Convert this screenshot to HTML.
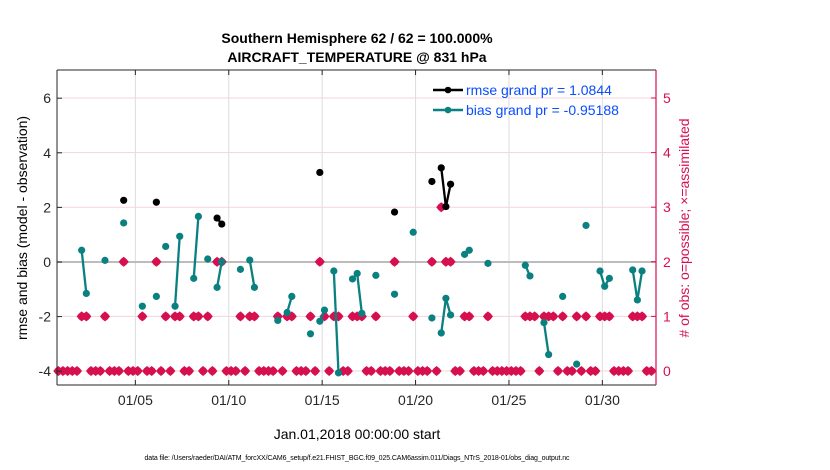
<!DOCTYPE html>
<html><head><meta charset="utf-8">
<style>
html,body{margin:0;padding:0;background:#fff;}
svg{display:block;font-family:"Liberation Sans",sans-serif;}
</style></head>
<body>
<svg id="chart" width="830" height="470" viewBox="0 0 830 470" xmlns="http://www.w3.org/2000/svg">
  <text x="357" y="43" font-size="14" font-weight="bold" text-anchor="middle">Southern Hemisphere 62 / 62 = 100.000%</text>
  <text x="357" y="62" font-size="14" font-weight="bold" text-anchor="middle">AIRCRAFT_TEMPERATURE @ 831 hPa</text>
  <g id="grid"></g>
  <g id="marks"></g>
  <g id="axes"></g>
  <text transform="translate(27,228) rotate(-90)" font-size="14" text-anchor="middle">rmse and bias (model - observation)</text>
  <text transform="translate(689,228) rotate(-90)" font-size="14" text-anchor="middle" fill="#d6104f"># of obs: o=possible; ×=assimilated</text>
  <text x="357" y="439" font-size="14" text-anchor="middle">Jan.01,2018 00:00:00 start</text>
  <text x="357" y="460" font-size="7" text-anchor="middle" textLength="425">data file: /Users/raeder/DAI/ATM_forcXX/CAM6_setup/f.e21.FHIST_BGC.f09_025.CAM6assim.011/Diags_NTrS_2018-01/obs_diag_output.nc</text>
  <g id="legend">
    <line x1="433" y1="90" x2="463" y2="90" stroke="#000" stroke-width="2.5"/>
    <circle cx="448" cy="90" r="3.3" fill="#000"/>
    <text x="466" y="95" font-size="14" fill="#0a4dff">rmse grand pr = 1.0844</text>
    <line x1="433" y1="110" x2="463" y2="110" stroke="#0a8080" stroke-width="2.5"/>
    <circle cx="448" cy="110" r="3.3" fill="#0a8080"/>
    <text x="466" y="115" font-size="14" fill="#0a4dff">bias grand pr = -0.95188</text>
  </g>
</svg>
<script>
// slot k corresponds to day 0.875 + 0.25*k (6-hourly bins)
const obsCount = [
0,0,0,0,0,1,1,0,0,0,1,0,0,0,2,0,
0,0,1,0,0,2,0,1,0,1,1,0,0,1,1,0,
1,0,2,2,0,0,0,1,0,1,1,0,0,0,0,1,
0,1,1,0,0,0,1,0,2,1,0,1,1,0,0,1,
1,1,0,0,1,0,0,0,2,0,0,0,1,0,0,0,
2,0,3,2,2,0,0,1,1,0,0,0,1,0,0,0,
0,0,0,0,1,1,1,0,1,1,1,0,1,0,0,1,
0,1,0,0,1,1,1,0,0,0,0,1,1,1,0,0];
const biasSlots = [5,6,10,14,18,21,23,25,26,29,30,32,34,35,39,41,42,47,49,50,54,56,57,59,60,63,64,65,68,72,76,80,82,83,84,87,88,92,100,101,104,105,108,111,113,116,117,118,123,124,125];
const biasValues = [0.43,-1.15,0.06,1.43,-1.62,-1.26,0.57,-1.62,0.94,-0.60,1.67,0.11,-0.93,0.01,-0.27,0.07,-0.93,-2.14,-1.85,-1.26,-2.63,-2.17,-1.76,-0.33,-4.06,-0.62,-0.42,-1.88,-0.49,-1.18,1.09,-2.05,-2.60,-1.33,-1.94,0.28,0.43,-0.05,-0.12,-0.51,-2.22,-3.39,-1.26,-3.74,1.34,-0.33,-0.89,-0.60,-0.29,-1.39,-0.33];
const rmseSlots = [14,21,34,35,56,72,80,82,83,84];
const rmseValues = [2.26,2.19,1.61,1.39,3.28,1.83,2.95,3.45,2.03,2.85];
const xTickDays = [5,10,15,20,25,30];
const xTickLabels = ["01/05","01/10","01/15","01/20","01/25","01/30"];
const yTicksLeft = [-4,-2,0,2,4,6];
const yTicksRight = [0,1,2,3,4,5];

const NS="http://www.w3.org/2000/svg";
const PL=57, PR=656, PT=70, PB=385;
const slotDay = k => 0.875 + 0.25*k;
const xDay = d => 58.3 + (d-0.875)*18.68;
const yL = v => 262 - v*27.3;
const yR = c => 371 - c*54.6;
function mk(tag, attrs, parent){const e=document.createElementNS(NS,tag);for(const a in attrs)e.setAttribute(a,attrs[a]);parent.appendChild(e);return e;}
const grid=document.getElementById('grid'), marks=document.getElementById('marks'), axes=document.getElementById('axes');

mk('rect',{x:PL,y:PT,width:PR-PL,height:PB-PT,fill:'#fff'},grid);
xTickDays.forEach(d=>{const x=xDay(d);mk('line',{x1:x,y1:PT,x2:x,y2:PB,stroke:'#dcdcdc','stroke-width':1},grid);});
yTicksRight.forEach(c=>{mk('line',{x1:PL,y1:yR(c),x2:PR,y2:yR(c),stroke:'#f5d3de','stroke-width':1},grid);});
mk('line',{x1:PL,y1:yL(0),x2:PR,y2:yL(0),stroke:'#bcbcbc','stroke-width':2},grid);

// obs count markers
obsCount.forEach((c,k)=>{
  const x=xDay(slotDay(k)), y=yR(c);
  if(x<PL||x>PR) return;
  const s=5, t=2.8;
  const p=mk('polygon',{points:`${x-s},${y} ${x-t},${y-t} ${x},${y-s} ${x+t},${y-t} ${x+s},${y} ${x+t},${y+t} ${x},${y+s} ${x-t},${y+t}`,fill:'#d6104f'},marks);
  
  
});

function series(slots, vals, color, name){
  for(let i=1;i<slots.length;i++){
    if(slots[i]===slots[i-1]+1){
      const l=mk('line',{x1:xDay(slotDay(slots[i-1])),y1:yL(vals[i-1]),x2:xDay(slotDay(slots[i])),y2:yL(vals[i]),stroke:color,'stroke-width':2.3},marks);
      
      
    }
  }
  slots.forEach((k,i)=>{
    const c=mk('circle',{cx:xDay(slotDay(k)),cy:yL(vals[i]),r:3.6,fill:color},marks);
    
    
  });
}
series(biasSlots,biasValues,'#0a8080','bias');
series(rmseSlots,rmseValues,'#000','rmse');

// axes
mk('line',{x1:PL,y1:PT,x2:PL,y2:PB,stroke:'#262626','stroke-width':1},axes);
mk('line',{x1:PL,y1:PB,x2:PR,y2:PB,stroke:'#262626','stroke-width':1},axes);
mk('line',{x1:PL,y1:PT,x2:PR,y2:PT,stroke:'#262626','stroke-width':1},axes);
mk('line',{x1:PR,y1:PT,x2:PR,y2:PB,stroke:'#d6104f','stroke-width':1.2},axes);
xTickDays.forEach((d,i)=>{
  const x=xDay(d);
  mk('line',{x1:x,y1:PB,x2:x,y2:PB-5,stroke:'#262626'},axes);
  mk('line',{x1:x,y1:PT,x2:x,y2:PT+5,stroke:'#262626'},axes);
  const t=mk('text',{x:x,y:PB+20,'font-size':14,'text-anchor':'middle',fill:'#262626'},axes);
  t.textContent=xTickLabels[i];
  
  
});
yTicksLeft.forEach(v=>{
  const y=yL(v);
  mk('line',{x1:PL,y1:y,x2:PL+5,y2:y,stroke:'#262626'},axes);
  const t=mk('text',{x:PL-6,y:y+5,'font-size':14,'text-anchor':'end',fill:'#262626'},axes);
  t.textContent=String(v);
  
  
});
yTicksRight.forEach(c=>{
  const y=yR(c);
  mk('line',{x1:PR,y1:y,x2:PR-5,y2:y,stroke:'#d6104f'},axes);
  const t=mk('text',{x:PR+7,y:y+5,'font-size':14,'text-anchor':'start',fill:'#d6104f'},axes);
  t.textContent=String(c);
  
  
});
</script>
</body></html>
